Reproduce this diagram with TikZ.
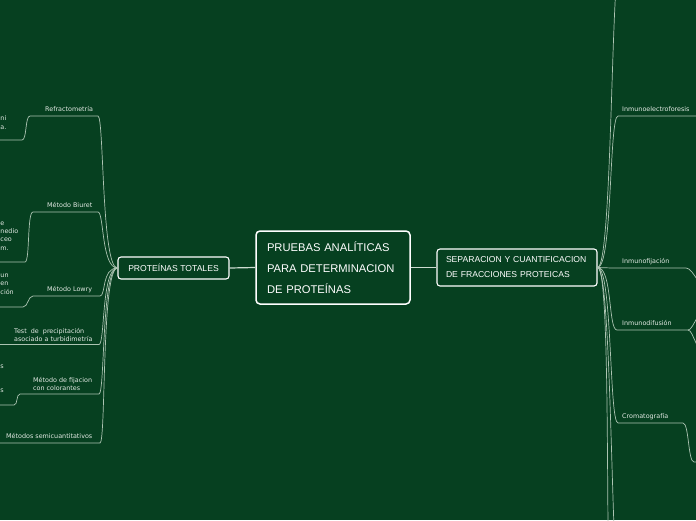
\documentclass[tikz,border=0pt]{standalone}
\usepackage{fontspec}
\setmainfont{DejaVu Sans}
\newfontfamily\titlefont{Liberation Sans}
\usetikzlibrary{positioning,calc}
\definecolor{bgreen}{RGB}{6,64,32}
\definecolor{branchc}{RGB}{172,196,178}
\definecolor{labelc}{RGB}{226,233,227}
\tikzset{
  root/.style ={rectangle, rounded corners=4pt, draw=white, line width=1.5pt, fill=bgreen,
    text=white, align=left, text width=138pt, inner xsep=8pt, minimum height=73pt,
    font=\titlefont\fontsize{11.2}{21}\selectfont},
  topic/.style ={rectangle, rounded corners=3pt, draw=white, line width=1.1pt, fill=bgreen,
    text=white, font=\titlefont\fontsize{8.6}{15}\selectfont},
  leaf/.style  ={inner sep=0pt, text=labelc, align=left, font=\fontsize{6.4}{8.3}\selectfont},
  branch/.style={draw=branchc, line width=0.7pt},
  trunk/.style ={draw=branchc!60!white, line width=1.2pt}
}

\begin{document}
\begin{tikzpicture}[x=1pt, y=-1pt]

\useasboundingbox (0,0) rectangle (696,520);
\fill[bgreen] (0,0) rectangle (696,520);
\clip (0,0) rectangle (696,520);

\node[root](raiz) at (333,267.5) {
  \hyphenpenalty=10000
  \hspace*{3pt}PRUEBAS ANALÍTICAS\\\hspace*{3pt}PARA DETERMINACION\\\hspace*{3pt}DE PROTEÍNAS
};

\node[topic, minimum width=111pt, minimum height=22pt](totales) at (173.5,268) {PROTEÍNAS TOTALES};

\node[topic, align=left, text width=142pt, inner xsep=9pt, minimum height=37pt](separacion) at (517,267.5) {
  SEPARACION Y CUANTIFICACION\\DE FRACCIONES PROTEICAS
};

\draw[trunk] (raiz.west) -- (totales.east);
\draw[trunk] (raiz.east) -- (separacion.west);

%PROTEINAS TOTALES - Refractometria
\coordinate (refrR) at (98,116);
\coordinate (refrL) at (30,116);
\coordinate (refrG) at (22,140);
\coordinate (refrX) at (-30,140);
\node[leaf, anchor=base west](refr) at (45,111.5) {Refractometría};
\draw[branch] (totales.west) .. controls +(-16,0) and +(6,0) .. (refrR) -- (refrL)
  .. controls +(-5,0) and +(5,0) .. (refrG) -- (refrX);
\node[leaf, anchor=base west](refr1) at (0.3,129) {ni\\a.};

%PROTEINAS TOTALES - Biuret
\coordinate (biuR) at (98,212);
\coordinate (biuL) at (33,212);
\coordinate (biuG) at (25,262);
\coordinate (biuX) at (-30,262);
\node[leaf, anchor=base west](biuret) at (47,207.5) {Método Biuret};
\draw[branch] (totales.west) .. controls +(-16,0) and +(6,0) .. (biuR) -- (biuL)
  .. controls +(-6,0) and +(5,0) .. (biuG) -- (biuX);
\node[leaf, anchor=base west](biuret1) at (0.3,250) {e\\nedio\\ceo\\m.};

%PROTEINAS TOTALES - Lowry
\coordinate (lowR) at (100,296);
\coordinate (lowL) at (33,296);
\coordinate (lowG) at (23,307);
\coordinate (lowX) at (-30,307);
\node[leaf, anchor=base west](lowry) at (47,291.5) {Método Lowry};
\draw[branch] (totales.west) .. controls +(-16,0) and +(6,0) .. (lowR) -- (lowL)
  .. controls +(-5,0) and +(5,0) .. (lowG) -- (lowX);
\node[leaf, anchor=base west](lowry1) at (0.3,294) {un\\en\\ción};

%PROTEINAS TOTALES - Turbidimetria
\coordinate (turR) at (99,344.5);
\coordinate (turL) at (-5,344.5);
\node[leaf, anchor=base west](turbid) at (14,341.3) {Test\ \ de\ \ precipitación\\asociado a turbidimetría};
\draw[branch] (totales.west) .. controls +(-16,0) and +(6,0) .. (turR) -- (turL);

%PROTEINAS TOTALES - Colorantes
\coordinate (colR) at (99,394);
\coordinate (colL) at (20,394);
\coordinate (colG) at (14,405);
\coordinate (colX) at (-30,405);
\node[leaf, anchor=base west](color) at (33,390.8) {Método de fijacion\\con colorantes};
\draw[branch] (totales.west) .. controls +(-16,0) and +(6,0) .. (colR) -- (colL)
  .. controls +(-4,0) and +(4,0) .. (colG) -- (colX);
\node[leaf, anchor=base west](color1) at (0.3,392) {s\\[15.2pt]s};

%PROTEINAS TOTALES - Semicuantitativos
\coordinate (semR) at (100,443);
\coordinate (semL) at (-5,443);
\node[leaf, anchor=base west](semi) at (6,438.5) {Métodos semicuantitativos};
\draw[branch] (totales.west) .. controls +(-16,0) and +(6,0) .. (semR) -- (semL);

%SEPARACION - rama superior
\coordinate (supX) at (620,-40);
\draw[branch] (separacion.east) .. controls +(15,0) and +(-9,0) .. (supX);

%SEPARACION - Inmunoelectroforesis
\coordinate (ielL) at (618,116);
\coordinate (ielR) at (720,116);
\node[leaf, anchor=base west](inmelec) at (622,111) {Inmunoelectroforesis};
\draw[branch] (separacion.east) .. controls +(15,0) and +(-9,0) .. (ielL) -- (ielR);

%SEPARACION - Inmunofijacion
\coordinate (ifiL) at (612,268);
\coordinate (ifiR) at (686,268);
\coordinate (ifiG) at (712,292);
\node[leaf, anchor=base west](inmfij) at (622,263.5) {Inmunofijación};
\draw[branch] (separacion.east) -- (ifiL) -- (ifiR)
  .. controls +(8,0) and +(-12,0) .. (ifiG);

%SEPARACION - Inmunodifusion
\coordinate (idiL) at (617,330);
\coordinate (idiR) at (688,330);
\coordinate (idiG) at (712,306);
\coordinate (idiH) at (712,357);
\node[leaf, anchor=base west](inmdif) at (622,325.5) {Inmunodifusión};
\draw[branch] (separacion.east) .. controls +(15,0) and +(-9,0) .. (idiL) -- (idiR);
\draw[branch] (idiR) .. controls +(6,0) and +(-14,0) .. (idiG);
\draw[branch] (idiR) .. controls +(6,0) and +(-16,0) .. (idiH);

%SEPARACION - Cromatografia
\coordinate (croL) at (618,423);
\coordinate (croR) at (683,423);
\coordinate (croG) at (694,462);
\coordinate (croX) at (720,462);
\node[leaf, anchor=base west](croma) at (622,418) {Cromatografía};
\draw[branch] (separacion.east) .. controls +(15,0) and +(-9,0) .. (croL) -- (croR)
  .. controls +(6,0) and +(-6,0) .. (croG) -- (croX);

%SEPARACION - ramas inferiores
\coordinate (infA) at (612,620);
\coordinate (infB) at (620,600);
\draw[branch] (separacion.east) .. controls +(15,0) and +(-8,0) .. (infA);
\draw[branch] (separacion.east) .. controls +(15,0) and +(-9,0) .. (infB);

\end{tikzpicture}
\end{document}
